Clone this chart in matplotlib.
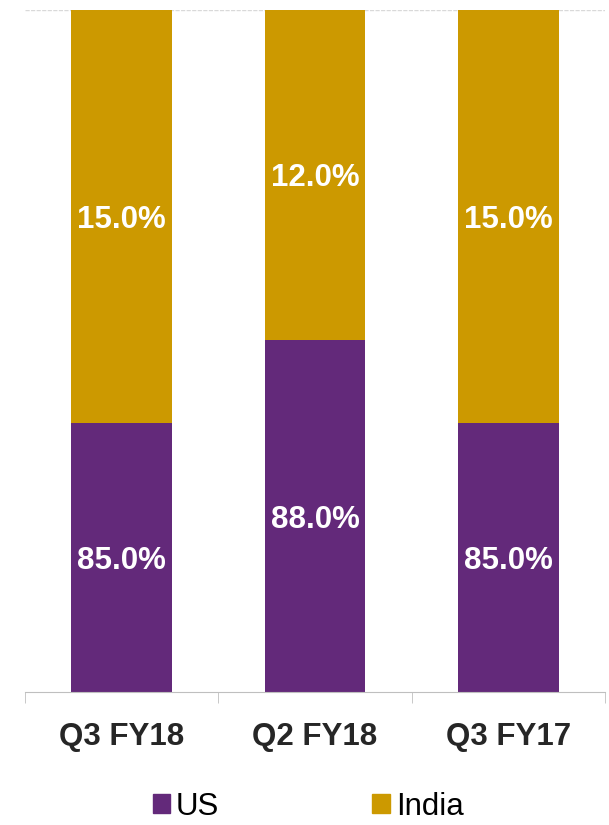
import matplotlib.pyplot as plt
from matplotlib.patches import Patch

plt.rcParams['font.family'] = ['Liberation Sans', 'DejaVu Sans']

# data
quarters = ['Q3 FY18', 'Q2 FY18', 'Q3 FY17']
us = [0.85, 0.88, 0.85]
india = [0.15, 0.12, 0.15]
axis_min = 0.752  # value axis does not start at zero in the source chart

purple = '#63297A'
gold = '#CC9900'

fig = plt.figure(figsize=(6.09, 8.25), dpi=100)
ax = fig.add_axes([25/609, 1-692/825, 580/609, 682/825])

x = list(range(len(quarters)))
ax.bar(x, us, width=0.52, color=purple)
ax.bar(x, india, width=0.52, bottom=us, color=gold)

ax.set_xlim(-0.5, 2.5)
ax.set_ylim(axis_min, 1.0)
ax.axhline(1.0, color='#D9D9D9', lw=1, ls=(0, (3, 1)), zorder=0)

# data labels centred on the visible part of each segment
for i in x:
    ax.text(i, (axis_min + us[i]) / 2, f'{us[i]*100:.1f}%', ha='center', va='center_baseline',
            color='white', fontsize=22.5, fontweight='bold')
    ax.text(i, (us[i] + 1.0) / 2, f'{india[i]*100:.1f}%', ha='center', va='center_baseline',
            color='white', fontsize=22.5, fontweight='bold')

for s in ['top', 'right', 'left']:
    ax.spines[s].set_visible(False)
ax.spines['bottom'].set_color('#BFBFBF')
ax.set_yticks([])
ax.set_xticks(x)
ax.set_xticklabels(quarters, fontsize=22.5, fontweight='bold', color='#262626')
ax.tick_params(axis='x', which='major', length=0, pad=21.5)
ax.set_xticks([-0.5, 0.5, 1.5, 2.5], minor=True)
ax.tick_params(axis='x', which='minor', length=8, color='#BFBFBF')

handles = [Patch(color=purple, label='US'), Patch(color=gold, label='India')]
fig.legend(handles=handles, loc='center', bbox_to_anchor=(0.506, 0.022), ncol=2,
           frameon=False, fontsize=22.5, handlelength=0.55, handleheight=0.55,
           handletextpad=0.2, columnspacing=4.9, borderaxespad=0)

plt.savefig('out.png')
